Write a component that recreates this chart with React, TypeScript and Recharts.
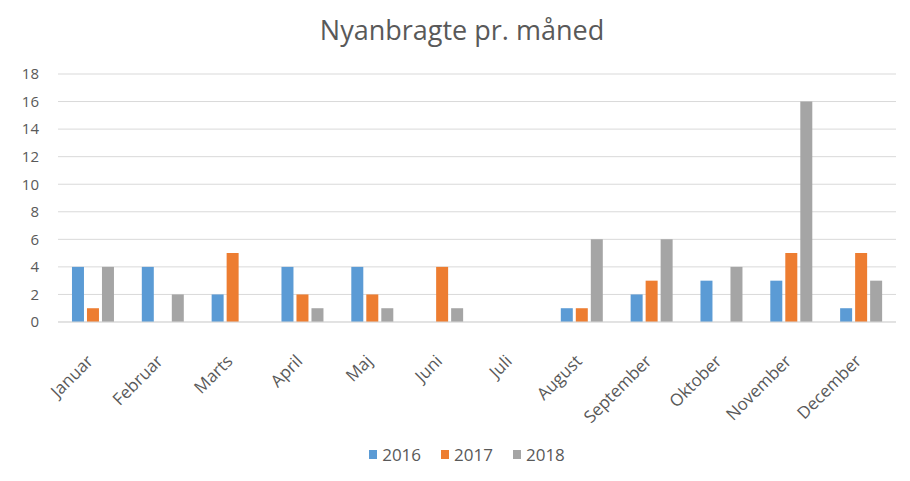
import { Bar, BarChart, CartesianGrid, Legend, XAxis, YAxis } from 'recharts';

const MONTHS = ['Januar', 'Februar', 'Marts', 'April', 'Maj', 'Juni', 'Juli', 'August', 'September', 'Oktober', 'November', 'December'];
const Y2016 = [4, 4, 2, 4, 4, 0, 0, 1, 2, 3, 3, 1];
const Y2017 = [1, 0, 5, 2, 2, 4, 0, 1, 3, 0, 5, 5];
const Y2018 = [4, 2, 0, 1, 1, 1, 0, 6, 6, 4, 16, 3];
const Y_TICKS = [0, 2, 4, 6, 8, 10, 12, 14, 16, 18];

const SERIES = [
  { key: '2016', color: '#5B9BD5' },
  { key: '2017', color: '#ED7D31' },
  { key: '2018', color: '#A5A5A5' },
];

const FONT = '"Open Sans", sans-serif';
const TEXT = '#595959';

const data = MONTHS.map((month, i) => ({
  month,
  '2016': Y2016[i],
  '2017': Y2017[i],
  '2018': Y2018[i],
}));

function MonthTick({ x, y, payload }: any) {
  return (
    <g transform={`translate(${x - 3},${y + 28}) rotate(-45)`}>
      <text textAnchor="end" dy="0.35em" fill={TEXT} fontSize={17} fontFamily={FONT}>
        {payload.value}
      </text>
    </g>
  );
}

function YearLegend() {
  return (
    <div style={{ display: 'flex', justifyContent: 'center', gap: 20, paddingLeft: 38, fontFamily: FONT, fontSize: 17, color: TEXT }}>
      {SERIES.map((s) => (
        <div key={s.key} style={{ display: 'flex', alignItems: 'center' }}>
          <span style={{ width: 8, height: 9, background: s.color, marginRight: 5, display: 'inline-block' }} />
          {s.key}
        </div>
      ))}
    </div>
  );
}

export default function App() {
  return (
    <div style={{ position: 'absolute', left: 0, top: 0, width: 910, height: 481, background: '#fff' }}>
      <div style={{ height: 60, lineHeight: '60px', textAlign: 'center', fontFamily: FONT, fontSize: 27, color: TEXT, paddingLeft: 14 }}>
        Nyanbragte pr. måned
      </div>
      <BarChart
        width={910}
        height={421}
        data={data}
        margin={{ top: 14, right: 14, left: 0, bottom: 18 }}
        barCategoryGap="20%"
        barGap={3}
      >
        <CartesianGrid vertical={false} stroke="#D9D9D9" />
        <XAxis
          dataKey="month"
          height={121}
          interval={0}
          tickLine={false}
          axisLine={{ stroke: '#D9D9D9' }}
          tick={<MonthTick />}
        />
        <YAxis
          width={58}
          domain={[0, 18]}
          ticks={Y_TICKS}
          axisLine={false}
          tickLine={false}
          tickSize={0}
          tickMargin={19}
          tick={{ fill: TEXT, fontSize: 15, fontFamily: FONT }}
        />
        <Legend verticalAlign="bottom" height={20} content={<YearLegend />} />
        {SERIES.map((s) => (
          <Bar key={s.key} dataKey={s.key} fill={s.color} isAnimationActive={false} />
        ))}
      </BarChart>
    </div>
  );
}
